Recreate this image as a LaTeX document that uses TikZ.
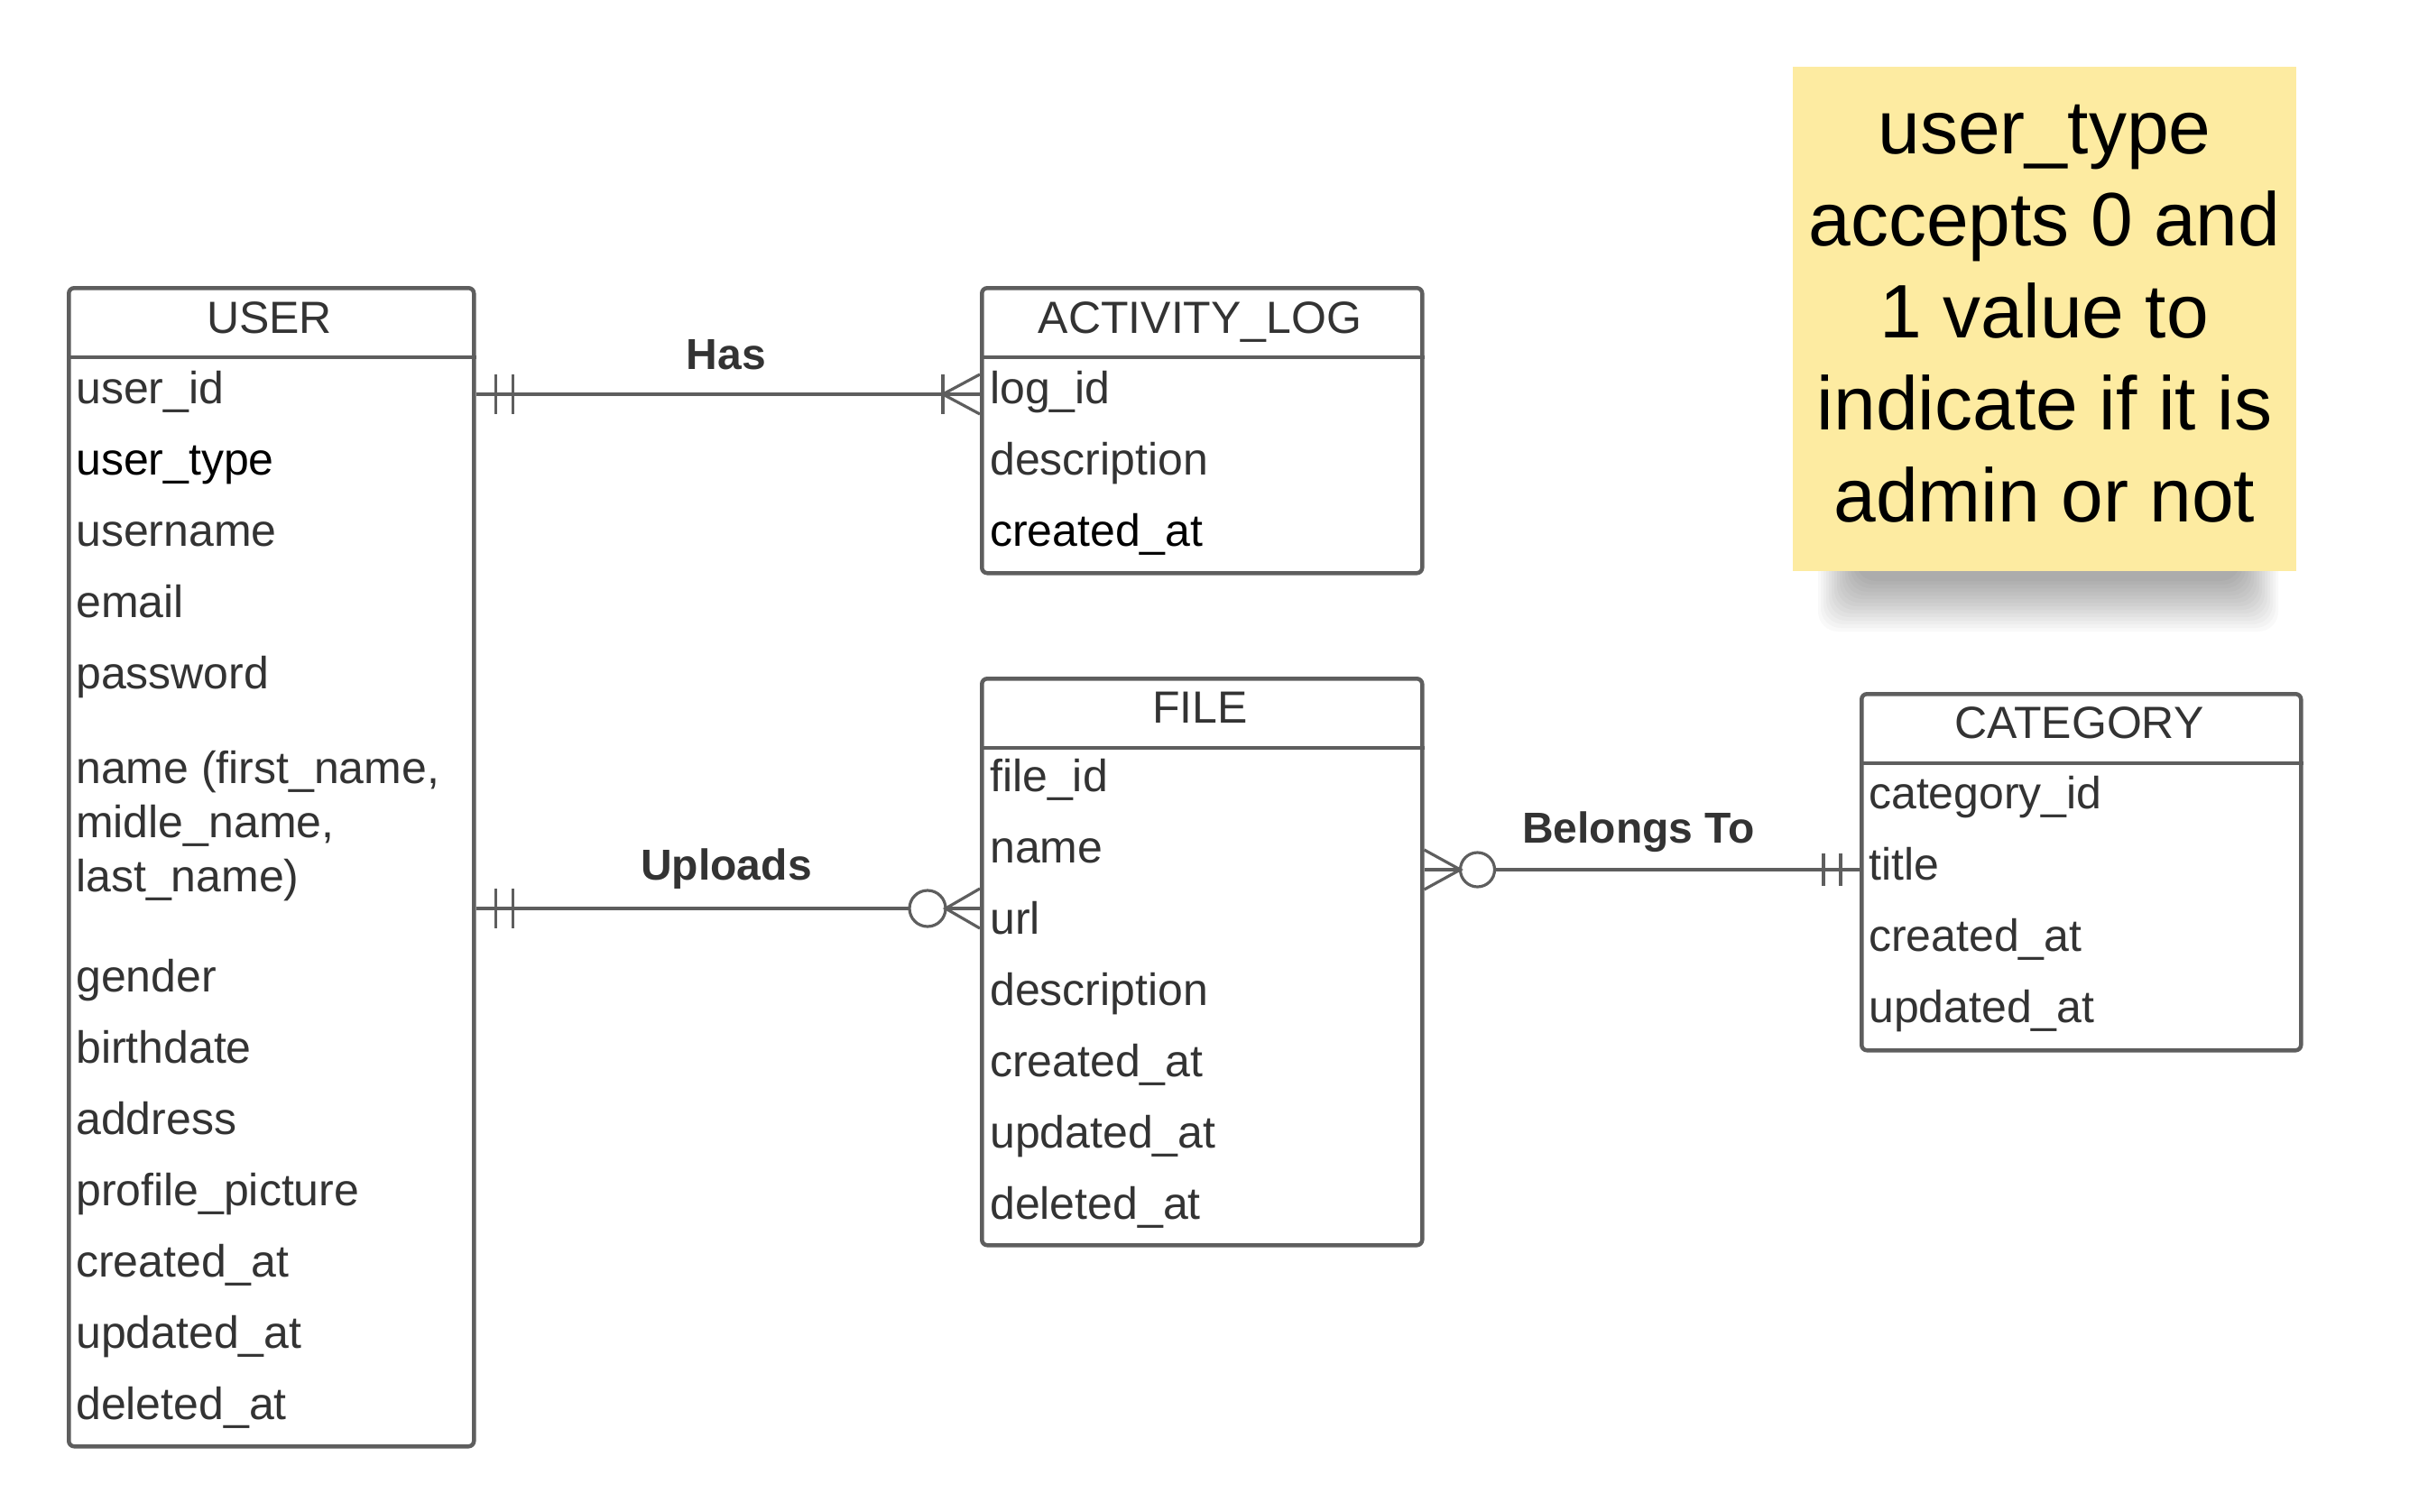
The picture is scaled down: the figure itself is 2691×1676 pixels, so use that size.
\documentclass[tikz,border=0pt]{standalone}
\usepackage{fontspec}
\setmainfont{Liberation Sans}
\definecolor{eline}{HTML}{5E5E5E}
\definecolor{etext}{HTML}{333333}
\definecolor{notefill}{HTML}{FDEBA1}
\begin{document}
\begin{tikzpicture}[x=1pt,y=-1pt,
  entity/.style={draw=eline, line width=4.5pt, rounded corners=6pt, anchor=north west, inner sep=0pt},
  hline/.style={draw=eline, line width=4.5pt},
  hdr/.style={font=\fontsize{50}{60}\selectfont, text=etext, inner sep=0pt, text height=36pt, text depth=10pt},
  fld/.style={font=\fontsize{50}{60}\selectfont, text=etext, anchor=west, inner sep=0pt, text height=36pt, text depth=10pt},
  rel/.style={draw=eline, line width=3.2pt},
  lbl/.style={font=\bfseries\fontsize{48}{58}\selectfont, text=etext, inner sep=0pt},
  shadowlayer/.style={fill=black, fill opacity=0.022, draw=none, rounded corners=22pt},
]
\useasboundingbox[fill=white] (0,0) rectangle (2691,1676);

% ---------- sticky note shadow ----------
\foreach \i in {0,...,14} {
  \path[shadowlayer] ({2015+3*\i},560) rectangle ({2525-3*\i},{700-4*\i});
}
% ---------- sticky note ----------
\node[fill=notefill, minimum width=558pt, minimum height=559pt, inner sep=0pt] (note) at (2266,353) {};
\node[align=center, font=\fontsize{84}{102}\selectfont, text=black, inner sep=0pt] (notetxt) at (note.center |- 0,348)
  {user\_type\\accepts 0 and\\1 value to\\indicate if it is\\admin or not};

% ---------- USER ----------
\node[entity, minimum width=449pt, minimum height=1284pt] (user) at (74,317) {};
\draw[hline] ([yshift=-79pt]user.north west) -- ([yshift=-79pt]user.north east);
\node[hdr] (userh) at (298.5,356) {USER};
\node[fld] (u1) at (84,434) {user\_id};
\node[fld, text=black] (u2) at (84,513) {user\_type};
\node[fld] (u3) at (84,592) {username};
\node[fld] (u4) at (84,671) {email};
\node[fld] (u5) at (84,750) {password};
\node[font=\fontsize{50}{60}\selectfont, text=etext, anchor=west, inner sep=0pt, align=left] (u6) at (84,916)
  {name (first\_name,\\midle\_name,\\last\_name)};
\node[fld] (u7) at (84,1086) {gender};
\node[fld] (u8) at (84,1165) {birthdate};
\node[fld] (u9) at (84,1244) {address};
\node[fld] (u10) at (84,1323) {profile\_picture};
\node[fld] (u11) at (84,1402) {created\_at};
\node[fld] (u12) at (84,1481) {updated\_at};
\node[fld] (u13) at (84,1560) {deleted\_at};

% ---------- ACTIVITY_LOG ----------
\node[entity, minimum width=488pt, minimum height=316pt] (act) at (1086,317) {};
\draw[hline] ([yshift=-79pt]act.north west) -- ([yshift=-79pt]act.north east);
\node[hdr] (acth) at (1330,356) {ACTIVITY\_LOG};
\node[fld] (a1) at (1097,434) {log\_id};
\node[fld] (a2) at (1097,513) {description};
\node[fld, text=black] (a3) at (1097,592) {created\_at};

% ---------- FILE ----------
\node[entity, minimum width=488pt, minimum height=628pt] (file) at (1086,750) {};
\draw[hline] ([yshift=-79pt]file.north west) -- ([yshift=-79pt]file.north east);
\node[hdr] (fileh) at (1330,788) {FILE};
\node[fld] (f1) at (1097,864) {file\_id};
\node[fld] (f2) at (1097,943) {name};
\node[fld] (f3) at (1097,1022) {url};
\node[fld] (f4) at (1097,1101) {description};
\node[fld] (f5) at (1097,1180) {created\_at};
\node[fld] (f6) at (1097,1259) {updated\_at};
\node[fld] (f7) at (1097,1338) {deleted\_at};

% ---------- CATEGORY ----------
\node[entity, minimum width=487pt, minimum height=395pt] (cat) at (2061,767) {};
\draw[hline] ([yshift=-79pt]cat.north west) -- ([yshift=-79pt]cat.north east);
\node[hdr] (cath) at (2304.5,805) {CATEGORY};
\node[fld] (c1) at (2071,883) {category\_id};
\node[fld] (c2) at (2071,962) {title};
\node[fld] (c3) at (2071,1041) {created\_at};
\node[fld] (c4) at (2071,1120) {updated\_at};

% ---------- Has: USER (one and only one) -- ACTIVITY_LOG (one or many) ----------
\coordinate (hasL) at (user.east |- 0,437);
\coordinate (hasR) at (act.west |- 0,437);
\draw[rel] (hasL) -- (hasR);
\draw[rel] ([xshift=22pt,yshift=22pt]hasL) -- ([xshift=22pt,yshift=-22pt]hasL);
\draw[rel] ([xshift=41pt,yshift=22pt]hasL) -- ([xshift=41pt,yshift=-22pt]hasL);
\draw[rel] ([xshift=-41pt,yshift=22pt]hasR) -- ([xshift=-41pt,yshift=-22pt]hasR);
\draw[rel] ([yshift=22pt]hasR) -- ([xshift=-41pt]hasR) -- ([yshift=-22pt]hasR);
\node[lbl] (hasl) at (805,393) {Has};

% ---------- Uploads: USER (one and only one) -- FILE (zero or many) ----------
\coordinate (upL) at (user.east |- 0,1007);
\coordinate (upR) at (file.west |- 0,1007);
\coordinate (upC) at ([xshift=-58pt]upR);
\draw[rel] (upL) -- ([xshift=-20pt]upC);
\draw[rel] ([xshift=20pt]upC) -- (upR);
\draw[rel] (upC) circle[radius=20pt];
\draw[rel] ([xshift=22pt,yshift=22pt]upL) -- ([xshift=22pt,yshift=-22pt]upL);
\draw[rel] ([xshift=41pt,yshift=22pt]upL) -- ([xshift=41pt,yshift=-22pt]upL);
\draw[rel] ([yshift=22pt]upR) -- ([xshift=-38pt]upR) -- ([yshift=-22pt]upR);
\node[lbl] (upl) at (805,963) {Uploads};

% ---------- Belongs To: FILE (zero or many) -- CATEGORY (one and only one) ----------
\coordinate (beL) at (file.east |- 0,964);
\coordinate (beR) at (cat.west |- 0,964);
\coordinate (beC) at ([xshift=59pt]beL);
\draw[rel] (beL) -- ([xshift=-19pt]beC);
\draw[rel] ([xshift=19pt]beC) -- (beR);
\draw[rel] (beC) circle[radius=19pt];
\draw[rel] ([yshift=22pt]beL) -- ([xshift=40pt]beL) -- ([yshift=-22pt]beL);
\draw[rel] ([xshift=-40pt,yshift=18pt]beR) -- ([xshift=-40pt,yshift=-18pt]beR);
\draw[rel] ([xshift=-21pt,yshift=18pt]beR) -- ([xshift=-21pt,yshift=-18pt]beR);
\node[lbl] (bel) at (1816,922) {Belongs To};

\end{tikzpicture}
\end{document}
